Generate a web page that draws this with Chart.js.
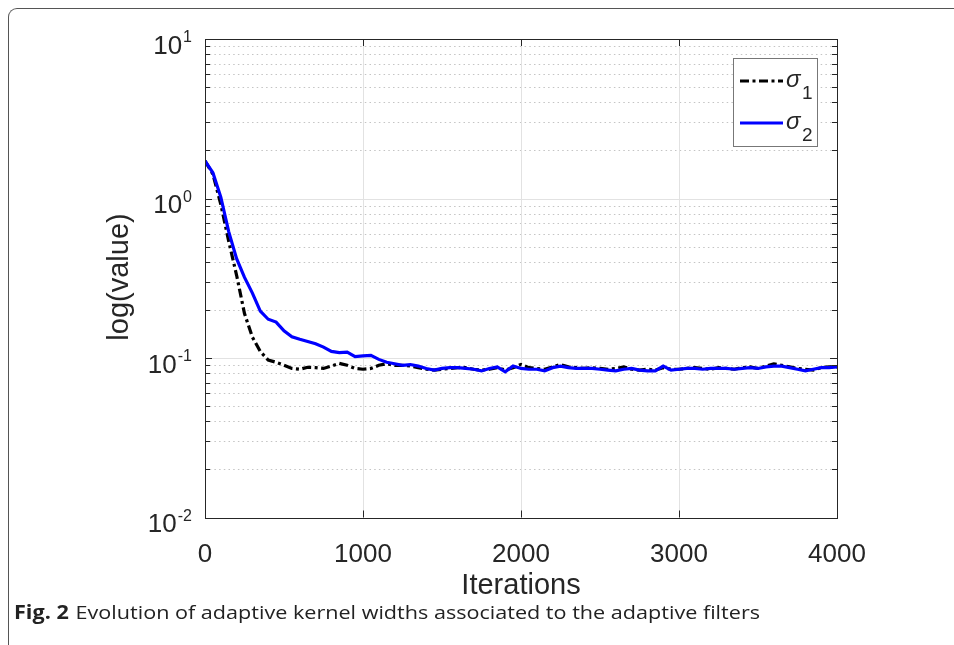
<!DOCTYPE html>
<html>
<head>
<meta charset="utf-8">
<script src="https://cdn.jsdelivr.net/npm/chart.js@4/dist/chart.umd.min.js"></script>
<style>
  html, body { margin: 0; padding: 0; background: #fff; }
  body { width: 954px; height: 645px; position: relative; overflow: hidden; }
  #frame {
    position: absolute; left: 8px; top: 8px; width: 1000px; height: 700px;
    border-left: 1.5px solid #555; border-top: 1.5px solid #555;
    border-top-left-radius: 9px;
  }
  #chart { position: absolute; left: 0; top: 0; }
  #caption {
    position: absolute; left: 14px; top: 599px; white-space: nowrap;
    font-family: "Open Sans", sans-serif; font-size: 19px; color: #222;
    transform-origin: 0 0;
  }
  #caption b { font-weight: 700; margin-right: 6px; }
</style>
</head>
<body>
<div id="frame"></div>
<canvas id="chart" width="954" height="645"></canvas>
<div id="caption"><b>Fig. 2</b>Evolution of adaptive kernel widths associated to the adaptive filters</div>

<script>
/* globals Chart: false */

var iterations = [
    0, 50, 100, 150, 200, 250, 300, 350, 400, 450,
    500, 550, 600, 650, 700, 750, 800, 850, 900, 950,
    1000, 1050, 1100, 1150, 1200, 1250, 1300, 1350, 1400, 1450,
    1500, 1550, 1600, 1650, 1700, 1750, 1800, 1850, 1900, 1950,
    2000, 2050, 2100, 2150, 2200, 2250, 2300, 2350, 2400, 2450,
    2500, 2550, 2600, 2650, 2700, 2750, 2800, 2850, 2900, 2950,
    3000, 3050, 3100, 3150, 3200, 3250, 3300, 3350, 3400, 3450,
    3500, 3550, 3600, 3650, 3700, 3750, 3800, 3850, 3900, 3950,
    4000];

var sigma1 = [
    1.72, 1.42, 0.92, 0.54, 0.33, 0.19, 0.135, 0.110, 0.097, 0.094,
    0.090, 0.086, 0.085, 0.0875, 0.087, 0.086, 0.089, 0.0925, 0.090, 0.086,
    0.085, 0.086, 0.090, 0.092, 0.090, 0.090, 0.089, 0.087, 0.085, 0.084,
    0.085, 0.086, 0.087, 0.087, 0.085, 0.084, 0.085, 0.087, 0.084, 0.087,
    0.091, 0.087, 0.086, 0.085, 0.088, 0.091, 0.088, 0.087, 0.086, 0.087,
    0.086, 0.085, 0.086, 0.088, 0.085, 0.084, 0.085, 0.084, 0.087, 0.085,
    0.085, 0.086, 0.087, 0.086, 0.085, 0.087, 0.086, 0.085, 0.087, 0.088,
    0.086, 0.089, 0.092, 0.090, 0.088, 0.086, 0.085, 0.084, 0.087, 0.088,
    0.088];

var sigma2 = [
    1.72, 1.45, 1.02, 0.62, 0.42, 0.32, 0.255, 0.197, 0.175, 0.168,
    0.148, 0.136, 0.131, 0.127, 0.123, 0.117, 0.110, 0.108, 0.109, 0.102,
    0.103, 0.104, 0.098, 0.094, 0.092, 0.090, 0.091, 0.089, 0.086, 0.084,
    0.086, 0.087, 0.087, 0.086, 0.085, 0.083, 0.086, 0.088, 0.082, 0.089,
    0.086, 0.085, 0.085, 0.083, 0.087, 0.089, 0.087, 0.086, 0.086, 0.086,
    0.085, 0.084, 0.083, 0.085, 0.086, 0.084, 0.083, 0.083, 0.089, 0.084,
    0.085, 0.086, 0.086, 0.085, 0.086, 0.086, 0.086, 0.085, 0.086, 0.087,
    0.086, 0.088, 0.089, 0.089, 0.087, 0.085, 0.083, 0.085, 0.087, 0.087,
    0.088];

var xTicks = [0, 1000, 2000, 3000, 4000];
var decades = [-2, -1, 0, 1];
var seriesNames = ["1", "2"]; // subscripts of sigma

function points(ys) {
    return iterations.map(function(x, i) { return {x: x, y: ys[i]}; });
}

var AXIS = "#262626";
var FONT = '"Liberation Sans", Arial, sans-serif';

// MATLAB style box, grid, inward ticks, y labels and legend
var matlabAxes = {
    id: 'matlabAxes',
    beforeDatasetsDraw: function(chart) {
        var c = chart.ctx, a = chart.chartArea;
        var xs = chart.scales.x, ys = chart.scales.y;
        c.save();
        c.lineWidth = 1;
        // minor grid (dotted)
        c.strokeStyle = "#c4c4c4";
        c.setLineDash([1.5, 3.2]);
        decades.forEach(function(e) {
            for (var k = 2; k <= 9; k++) {
                var v = k * Math.pow(10, e);
                if (v > 10) continue;
                var y = Math.round(ys.getPixelForValue(v)) + 0.5;
                c.beginPath(); c.moveTo(a.left, y); c.lineTo(a.right, y); c.stroke();
            }
        });
        // major grid
        c.setLineDash([]);
        c.strokeStyle = "#e2e2e2";
        decades.forEach(function(e) {
            var y = Math.round(ys.getPixelForValue(Math.pow(10, e))) + 0.5;
            c.beginPath(); c.moveTo(a.left, y); c.lineTo(a.right, y); c.stroke();
        });
        xTicks.forEach(function(t) {
            var x = Math.round(xs.getPixelForValue(t)) + 0.5;
            c.beginPath(); c.moveTo(x, a.top); c.lineTo(x, a.bottom); c.stroke();
        });
        c.restore();
    },
    afterDatasetsDraw: function(chart) {
        var c = chart.ctx, a = chart.chartArea;
        var xs = chart.scales.x, ys = chart.scales.y;
        c.save();
        c.strokeStyle = AXIS;
        c.lineWidth = 1;
        // inward ticks
        decades.forEach(function(e) {
            for (var k = 1; k <= 9; k++) {
                var v = k * Math.pow(10, e);
                if (v > 10) continue;
                var len = k === 1 ? 7 : 5;
                var y = Math.round(ys.getPixelForValue(v)) + 0.5;
                c.beginPath();
                c.moveTo(a.left, y); c.lineTo(a.left + len, y);
                c.moveTo(a.right, y); c.lineTo(a.right - len, y);
                c.stroke();
            }
        });
        xTicks.forEach(function(t) {
            var x = Math.round(xs.getPixelForValue(t)) + 0.5;
            c.beginPath();
            c.moveTo(x, a.bottom); c.lineTo(x, a.bottom - 7);
            c.moveTo(x, a.top); c.lineTo(x, a.top + 7);
            c.stroke();
        });
        // box
        c.strokeRect(Math.round(a.left) + 0.5, Math.round(a.top) + 0.5,
            Math.round(a.right - a.left), Math.round(a.bottom - a.top));

        // y tick labels 10^e
        c.fillStyle = AXIS;
        c.textBaseline = 'alphabetic';
        c.textAlign = 'right';
        decades.forEach(function(e) {
            var y = ys.getPixelForValue(Math.pow(10, e));
            var ex = String(e);
            c.font = '16px ' + FONT;
            var ew = c.measureText(ex).width;
            c.fillText(ex, 192, y + 3);
            c.font = '26px ' + FONT;
            c.fillText('10', 192 - ew - 1, y + 14.5);
        });

        // y title
        c.save();
        c.translate(120, 277);
        c.rotate(-Math.PI / 2);
        c.textAlign = 'center';
        c.textBaseline = 'middle';
        c.font = '29px ' + FONT;
        c.fillText('log(value)', 0, 0);
        c.restore();

        // legend
        var lx = 733, ly = 58, lw = 84, lh = 88;
        c.fillStyle = '#fff';
        c.fillRect(lx, ly, lw, lh);
        c.strokeStyle = '#777';
        c.strokeRect(lx + 0.5, ly + 0.5, lw, lh);
        var rows = [81, 123];
        chart.data.datasets.forEach(function(ds, i) {
            var y = rows[i];
            c.strokeStyle = ds.borderColor;
            c.lineWidth = ds.borderWidth;
            c.setLineDash(ds.borderDash || []);
            c.beginPath(); c.moveTo(740, y); c.lineTo(783, y); c.stroke();
            c.setLineDash([]);
            c.fillStyle = AXIS;
            c.textAlign = 'left';
            c.textBaseline = 'alphabetic';
            c.font = 'italic 24px ' + FONT;
            c.fillText('\u03c3', 786, y + 6);
            c.font = '19px ' + FONT;
            c.fillText(seriesNames[i], 802, y + 18);
        });
        c.restore();
    }
};

var config = {
    type: 'line',
    data: {
        datasets: [
            {
                label: '\u03c3' + seriesNames[0],
                data: points(sigma1),
                borderColor: '#000000',
                borderWidth: 3.2,
                borderDash: [9, 3.5, 3, 3.5],
                pointRadius: 0,
                fill: false,
                order: 1
            },
            {
                label: '\u03c3' + seriesNames[1],
                data: points(sigma2),
                borderColor: '#0000ff',
                borderWidth: 3.2,
                pointRadius: 0,
                fill: false,
                order: 0
            }
        ]
    },
    options: {
        responsive: false,
        animation: false,
        devicePixelRatio: 1,
        layout: { padding: { left: 0, top: 39, right: 117, bottom: 41.5 } },
        plugins: {
            legend: { display: false },
            tooltip: { enabled: false }
        },
        scales: {
            x: {
                type: 'linear',
                min: 0,
                max: 4000,
                afterBuildTicks: function(s) {
                    s.ticks = xTicks.map(function(v) { return {value: v}; });
                },
                afterFit: function(s) { s.height = 86; },
                grid: { display: false },
                border: { display: false },
                ticks: {
                    padding: 14,
                    maxRotation: 0,
                    color: AXIS,
                    font: { family: FONT, size: 26 },
                    callback: function(v) { return String(v); }
                },
                title: {
                    display: true,
                    text: 'Iterations',
                    color: AXIS,
                    padding: 0,
                    font: { family: FONT, size: 29 }
                }
            },
            y: {
                type: 'logarithmic',
                min: 0.01,
                max: 10,
                afterFit: function(s) { s.width = 205; },
                grid: { display: false },
                border: { display: false },
                ticks: { display: false }
            }
        }
    },
    plugins: [matlabAxes]
};

var ctx = document.getElementById("chart").getContext("2d");
var sigmaChart = new Chart(ctx, config);

// squeeze the caption to the width it has in the figure
var cap = document.getElementById("caption");
var w = cap.getBoundingClientRect().width;
cap.style.transform = 'scaleX(' + (746 / w) + ')';
</script>
</body>
</html>
